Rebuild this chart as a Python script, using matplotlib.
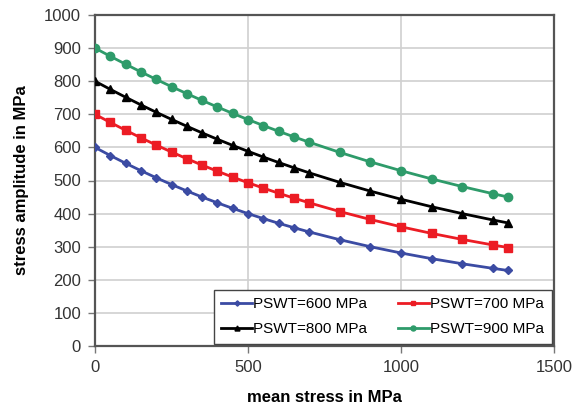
import matplotlib.pyplot as plt

plt.rcParams['font.family'] = ['Liberation Sans', 'DejaVu Sans']

# mean stress (MPa)
mean_stress = [0, 50, 100, 150, 200, 250, 300, 350, 400, 450, 500, 550, 600,
               650, 700, 800, 900, 1000, 1100, 1200, 1300, 1350]

# stress amplitude (MPa) for each PSWT level
amp_600 = [600, 575.5, 552.1, 529.7, 508.3, 487.9, 468.5, 450.0, 432.5, 415.8,
           400.0, 385.0, 370.8, 357.4, 344.6, 321.1, 300.0, 281.0, 263.9,
           248.5, 234.6, 228.1]
amp_700 = [700, 675.4, 651.8, 629.0, 607.1, 586.1, 565.9, 546.5, 528.0, 510.3,
           493.3, 477.1, 461.6, 446.8, 432.6, 406.2, 382.2, 360.2, 340.2,
           322.0, 305.3, 297.4]
amp_800 = [800, 775.4, 751.6, 728.5, 706.2, 684.7, 663.9, 643.9, 624.6, 606.0,
           588.2, 570.9, 554.4, 538.5, 523.2, 494.4, 467.9, 443.4, 420.8,
           400.0, 380.8, 371.7]
amp_900 = [900, 875.3, 851.4, 828.1, 805.5, 783.6, 762.4, 741.9, 722.0, 702.7,
           684.1, 666.1, 648.7, 631.9, 615.7, 584.9, 556.2, 529.6, 504.8,
           481.7, 460.2, 450.0]

labels = ['PSWT=600 MPa', 'PSWT=700 MPa', 'PSWT=800 MPa', 'PSWT=900 MPa']

fig = plt.figure(figsize=(5.8, 4.07), dpi=100)
ax = fig.add_axes([95 / 580, 1 - 346 / 407, 459 / 580, 331 / 407])

l1, = ax.plot(mean_stress, amp_600, color='#3B4BA3', marker='D',
              markersize=4.5, linewidth=2, label=labels[0], zorder=3)
l2, = ax.plot(mean_stress, amp_700, color='#EC1C24', marker='s',
              markersize=6, linewidth=2, label=labels[1], zorder=3)
l3, = ax.plot(mean_stress, amp_800, color='black', marker='^',
              markersize=6, linewidth=2, label=labels[2], zorder=3)
l4, = ax.plot(mean_stress, amp_900, color='#2E9B6A', marker='o',
              markersize=6, linewidth=2, label=labels[3], zorder=3)

ax.set_xlim(0, 1500)
ax.set_ylim(0, 1000)
ax.set_xticks([0, 500, 1000, 1500])
ax.set_yticks(range(0, 1001, 100))
ax.grid(True, color='#D0D0D0', linewidth=1.2)
ax.set_axisbelow(True)
for sp in ax.spines.values():
    sp.set_color('#555555')
    sp.set_linewidth(1.6)
ax.tick_params(direction='out', length=5, width=1, color='#777777',
               labelsize=12, pad=5, labelcolor='#333333')

ax.set_xlabel('mean stress in MPa', fontsize=12, fontweight='bold',
              labelpad=11)
ax.set_ylabel('stress amplitude in MPa', fontsize=12, fontweight='bold',
              labelpad=11)

# two columns, filled row by row
leg = ax.legend([l1, l3, l2, l4], [labels[0], labels[2], labels[1], labels[3]],
                loc='lower right', ncol=2, fontsize=11, frameon=True,
                fancybox=False, edgecolor='#444444', framealpha=1,
                borderaxespad=0.15, handlelength=2.0, markerscale=0.6,
                columnspacing=2.0, handletextpad=0.1, borderpad=0.5,
                labelspacing=0.7)
leg.get_frame().set_linewidth(1)

fig.savefig('out.png', dpi=100)
